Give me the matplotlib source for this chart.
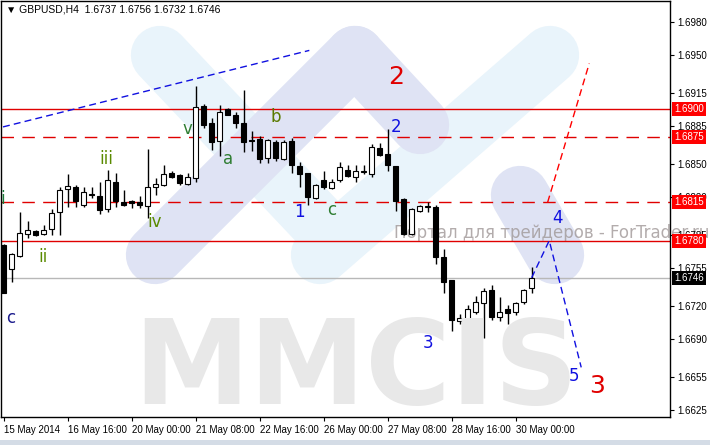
import numpy as np
import matplotlib
matplotlib.use("Agg")
import matplotlib.pyplot as plt
from matplotlib.patches import Rectangle

plt.rcParams['font.family'] = ['Liberation Sans', 'DejaVu Sans']

# H4 candles, GBPUSD 15 May - 30 May 2014
opens = [1.6776, 1.6754, 1.6766, 1.6786, 1.6789, 1.6786, 1.6791, 1.6806, 1.6827, 1.6829,
         1.6813, 1.6823, 1.6821, 1.6809, 1.6834, 1.6815, 1.6816, 1.6815, 1.6812, 1.6829,
         1.6831, 1.6842, 1.6840, 1.6832, 1.6837, 1.6903, 1.6888, 1.6871, 1.6900, 1.6895,
         1.6888, 1.6872, 1.6873, 1.6856, 1.6870, 1.6855, 1.6871, 1.6848, 1.6842, 1.6819,
         1.6835, 1.6828, 1.6835, 1.6845, 1.6838, 1.6843, 1.6841, 1.6865, 1.6859, 1.6848,
         1.6818, 1.6786, 1.6807, 1.6811, 1.6811, 1.6765, 1.6744, 1.6706, 1.6708, 1.6715,
         1.6723, 1.6735, 1.6710, 1.6717, 1.6715, 1.6724, 1.6737]
highs = [1.6777, 1.6769, 1.6806, 1.6798, 1.6790, 1.6794, 1.6809, 1.6829, 1.6841, 1.6831,
         1.6829, 1.6829, 1.6834, 1.6845, 1.6842, 1.6826, 1.6817, 1.6821, 1.6864, 1.6837,
         1.6849, 1.6844, 1.6841, 1.6842, 1.6921, 1.6905, 1.6892, 1.6904, 1.6901, 1.6898,
         1.6918, 1.6880, 1.6876, 1.6873, 1.6872, 1.6872, 1.6874, 1.6852, 1.6842, 1.6832,
         1.6844, 1.6836, 1.6852, 1.6849, 1.6849, 1.6849, 1.6868, 1.6869, 1.6882, 1.6848,
         1.6819, 1.6810, 1.6813, 1.6815, 1.6813, 1.6772, 1.6744, 1.6713, 1.6721, 1.6729,
         1.6737, 1.6739, 1.6728, 1.6721, 1.6724, 1.6736, 1.6756]
lows = [1.6732, 1.6742, 1.6765, 1.6782, 1.6784, 1.6785, 1.6785, 1.6785, 1.6811, 1.6811,
        1.6811, 1.6819, 1.6804, 1.6806, 1.6811, 1.6812, 1.6810, 1.6810, 1.6801, 1.6822,
        1.6830, 1.6837, 1.6831, 1.6831, 1.6834, 1.6883, 1.6863, 1.6857, 1.6895, 1.6883,
        1.6861, 1.6862, 1.6851, 1.6851, 1.6853, 1.6854, 1.6842, 1.6829, 1.6813, 1.6818,
        1.6827, 1.6827, 1.6834, 1.6838, 1.6834, 1.6841, 1.6838, 1.6857, 1.6844, 1.6807,
        1.6785, 1.6785, 1.6806, 1.6806, 1.6759, 1.6732, 1.6697, 1.6704, 1.6707, 1.6713,
        1.6691, 1.6707, 1.6706, 1.6704, 1.6712, 1.6722, 1.6732]
closes = [1.6732, 1.6768, 1.6787, 1.6790, 1.6785, 1.6790, 1.6805, 1.6826, 1.6830, 1.6816,
          1.6824, 1.6822, 1.6808, 1.6835, 1.6816, 1.6813, 1.6814, 1.6813, 1.6829, 1.6832,
          1.6841, 1.6838, 1.6833, 1.6838, 1.6902, 1.6886, 1.6870, 1.6898, 1.6895, 1.6888,
          1.6870, 1.6871, 1.6855, 1.6872, 1.6856, 1.6870, 1.6849, 1.6841, 1.6820, 1.6831,
          1.6829, 1.6834, 1.6847, 1.6839, 1.6844, 1.6843, 1.6866, 1.6858, 1.6849, 1.6816,
          1.6786, 1.6809, 1.6812, 1.6811, 1.6765, 1.6742, 1.6707, 1.6709, 1.6717, 1.6724,
          1.6734, 1.6710, 1.6715, 1.6714, 1.6723, 1.6735, 1.6746]

date_labels = ["15 May 2014", "16 May 16:00", "20 May 00:00", "21 May 08:00", "22 May 16:00",
               "26 May 00:00", "27 May 08:00", "28 May 16:00", "30 May 00:00"]
date_idx = [0, 8, 16, 24, 32, 40, 48, 56, 64]
y_ticks = [1.6980, 1.6950, 1.6915, 1.6885, 1.6850, 1.6820, 1.6785, 1.6755, 1.6720, 1.6690, 1.6655, 1.6625]

solid_levels = [1.6900, 1.6780]
dashed_levels = [1.6875, 1.6815]
last_price = 1.6746

# wave markings (index, price)
trend_x, trend_y = [-0.1, 38.2], [1.6884, 1.6954]
red_x, red_y = [68.0, 73.2], [1.6815, 1.6942]
proj_x, proj_y = [66.0, 68.2, 72.2], [1.6746, 1.6780, 1.6664]

labels = [("i", -0.2, 1.6818, "#1E7B3C", 12), ("ii", 4.9, 1.6765, "#5A8A00", 12),
          ("iii", 12.8, 1.6855, "#5A8A00", 12), ("iv", 18.9, 1.6797, "#5A8A00", 12),
          ("v", 23.0, 1.6882, "#2E7D32", 12), ("c", 0.8, 1.6709, "#1A1A8C", 12),
          ("a", 28.0, 1.6855, "#2E7D32", 12), ("b", 34.0, 1.6893, "#5A7A00", 12),
          ("1", 37.0, 1.6806, "#1010E0", 12), ("c", 41.0, 1.6808, "#2E7D32", 12),
          ("2", 49.0, 1.6884, "#1010E0", 12), ("3", 53.0, 1.6686, "#1010E0", 12),
          ("4", 69.2, 1.6801, "#1010E0", 12), ("5", 71.3, 1.6656, "#1010E0", 12),
          ("2", 49.0, 1.6930, "#E00000", 18), ("3", 74.2, 1.6647, "#E00000", 18)]

fig = plt.figure(figsize=(7.1, 4.45), dpi=100)
ax = fig.add_axes([1 / 710, 28 / 445, 669 / 710, 416 / 445])
ax.set_xlim(-0.35, 83.3)
ax.set_ylim(1.66186, 1.69992)

# watermark logo (pixel coords -> figure fraction)
def band(p0, p1, color):
    fig.add_artist(plt.Line2D([p0[0] / 710, p1[0] / 710], [1 - p0[1] / 445, 1 - p1[1] / 445],
                              transform=fig.transFigure, color=color, lw=42,
                              solid_capstyle="round", zorder=0))

band((160, 55), (330, 235), "#E9F4FB")
band((550, 55), (320, 255), "#E9F4FB")
band((355, 55), (155, 255), "#DFE3F4")
band((355, 55), (420, 125), "#DFE3F4")
band((520, 195), (555, 255), "#DFE3F4")
ax.patch.set_alpha(0)
fig.text(356 / 710, 1 - 372 / 445, "MMCIS", fontsize=84, fontweight="bold", color="#E8E8E8",
         family="DejaVu Sans", ha="center", va="center", zorder=0)
ax.text(393 / 669, 1 - (233 - 1) / 416, "Портал для трейдеров - ForTrader.ru",
        transform=ax.transAxes, fontsize=12, family="DejaVu Sans", color="#A09898",
        alpha=0.8, va="center", zorder=1)

# levels
for lv in solid_levels:
    ax.axhline(lv, color="#E00000", lw=1, zorder=2)
for lv in dashed_levels:
    ax.axhline(lv, color="#E00000", lw=1, ls=(0, (9, 6)), zorder=2)
ax.axhline(last_price, color="#B8B8B8", lw=1, zorder=2)

# candles
for i, (o, h, l, c) in enumerate(zip(opens, highs, lows, closes)):
    ax.vlines(i, l, h, color="black", lw=1, zorder=3)
    bottom, top = min(o, c), max(o, c)
    ax.add_patch(Rectangle((i - 0.3, bottom), 0.6, max(top - bottom, 0.00003),
                           facecolor="white" if c >= o else "black", edgecolor="black",
                           lw=0.8, zorder=4))

ax.plot(trend_x, trend_y, color="#1010E0", lw=1, ls=(0, (5, 3)), zorder=3)
ax.plot(red_x, red_y, color="#FF0000", lw=1, ls=(0, (5, 3)), zorder=3)
ax.plot(proj_x, proj_y, color="#1010E0", lw=1, ls=(0, (5, 3)), zorder=3)

for t, x, y, col, fs in labels:
    ax.text(x, y, t, color=col, fontsize=fs, family="DejaVu Sans",
            ha="center", va="center", zorder=5)

# axes styling
for s in ax.spines.values():
    s.set_color("black")
    s.set_linewidth(1)
ax.yaxis.tick_right()
ax.set_yticks(y_ticks)
ax.set_yticklabels([f"{v:.4f}" for v in y_ticks])
ax.set_xticks(date_idx)
ax.set_xticklabels(date_labels, ha="left")
ax.tick_params(axis="both", labelsize=7, length=3, direction="out", pad=2)
ax.tick_params(axis="x", pad=3)

for lv in solid_levels + dashed_levels:
    ax.text(1.006, lv, f"{lv:.4f}", transform=ax.get_yaxis_transform(), fontsize=7,
            color="white", va="center", ha="left",
            bbox=dict(boxstyle="square,pad=0.2", facecolor="#FF0000", edgecolor="none"))
ax.text(1.006, last_price, f"{last_price:.4f}", transform=ax.get_yaxis_transform(), fontsize=7,
        color="white", va="center", ha="left",
        bbox=dict(boxstyle="square,pad=0.2", facecolor="black", edgecolor="none"))

fig.text(6 / 710, 1 - 9 / 445, "▼ GBPUSD,H4  1.6737 1.6756 1.6732 1.6746", fontsize=7.5,
         va="center", color="black")
fig.add_artist(Rectangle((0, 0), 1, 5 / 445, transform=fig.transFigure,
                         facecolor="#D4DCE6", edgecolor="none"))

fig.savefig("out.png", dpi=100)
